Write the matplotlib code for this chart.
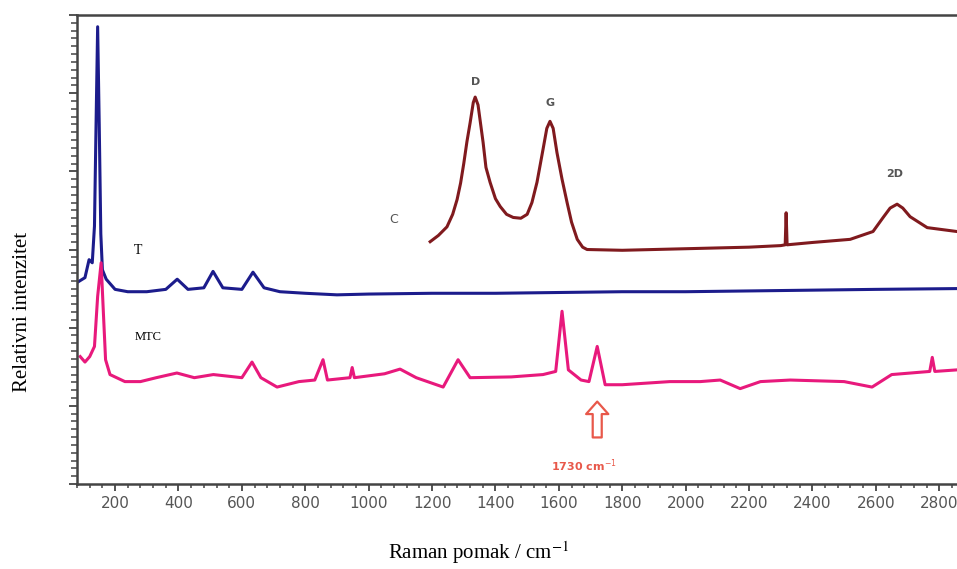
import matplotlib
matplotlib.use("Agg")
import matplotlib.pyplot as plt
from matplotlib.ticker import MultipleLocator

# Raman shift (cm-1) and relative intensity
t_x = [85, 105, 118, 128, 135, 140, 145, 150, 155, 160, 172, 200, 240, 300, 360, 396, 430,
       480, 509, 540, 600, 635, 670, 720, 800, 900, 1000, 1200, 1400, 1600, 1800, 2000,
       2200, 2400, 2600, 2856]
t_y = [2.59, 2.64, 2.87, 2.83, 3.30, 4.60, 5.85, 4.60, 3.20, 2.74, 2.62, 2.49, 2.46, 2.46,
       2.49, 2.62, 2.49, 2.51, 2.72, 2.51, 2.49, 2.71, 2.51, 2.46, 2.44, 2.42, 2.43, 2.44,
       2.44, 2.45, 2.46, 2.46, 2.47, 2.48, 2.49, 2.50]

mtc_x = [90, 105, 120, 135, 145, 156, 163, 170, 184, 231, 280, 330, 395, 450, 510, 600, 632,
         660, 711, 780, 830, 856, 870, 941, 948, 955, 1050, 1099, 1150, 1235, 1282, 1320,
         1450, 1550, 1590, 1610, 1630, 1670, 1695, 1721, 1746, 1800, 1950, 2046, 2109, 2172,
         2236, 2330, 2500, 2588, 2650, 2770, 2778, 2786, 2856]
mtc_y = [1.63, 1.56, 1.63, 1.76, 2.40, 2.83, 2.20, 1.59, 1.40, 1.31, 1.31, 1.36, 1.42, 1.36,
         1.40, 1.36, 1.56, 1.36, 1.24, 1.31, 1.33, 1.59, 1.33, 1.36, 1.49, 1.36, 1.41, 1.47,
         1.36, 1.24, 1.59, 1.36, 1.37, 1.40, 1.44, 2.21, 1.46, 1.33, 1.31, 1.76, 1.27, 1.27,
         1.31, 1.31, 1.33, 1.22, 1.31, 1.33, 1.31, 1.24, 1.40, 1.44, 1.62, 1.44, 1.46]

c_x = [1194, 1220, 1247, 1265, 1279, 1290, 1300, 1310, 1320, 1330, 1336, 1345, 1361, 1370,
       1383, 1400, 1415, 1435, 1456, 1480, 1500, 1515, 1531, 1550, 1562, 1572, 1582, 1594,
       1610, 1626, 1640, 1658, 1675, 1689, 1800, 1900, 2000, 2100, 2200, 2300, 2314, 2317,
       2320, 2400, 2519, 2591, 2623, 2645, 2667, 2685, 2708, 2762, 2856]
c_y = [3.10, 3.18, 3.29, 3.45, 3.64, 3.85, 4.10, 4.38, 4.62, 4.88, 4.95, 4.85, 4.37, 4.05,
       3.86, 3.65, 3.55, 3.45, 3.41, 3.40, 3.45, 3.60, 3.86, 4.28, 4.55, 4.64, 4.55, 4.24,
       3.90, 3.60, 3.35, 3.13, 3.03, 3.00, 2.99, 3.00, 3.01, 3.02, 3.03, 3.05, 3.06, 3.47,
       3.06, 3.09, 3.13, 3.23, 3.41, 3.53, 3.58, 3.53, 3.42, 3.28, 3.23]

serif = "Liberation Serif"

fig = plt.figure(figsize=(9.57, 5.69), dpi=100)
ax = fig.add_axes([0.0805, 0.1494, 0.9195, 0.8242])

ax.plot(t_x, t_y, color="#1c1c8c", lw=2.2)
ax.plot(mtc_x, mtc_y, color="#e8197c", lw=2.2)
ax.plot(c_x, c_y, color="#801a1e", lw=2.2)

ax.set_xlim(80, 2856)
ax.set_ylim(0, 6)
ax.xaxis.set_major_locator(MultipleLocator(200))
ax.xaxis.set_minor_locator(MultipleLocator(40))
ax.yaxis.set_major_locator(MultipleLocator(1))
ax.yaxis.set_minor_locator(MultipleLocator(0.1))
ax.set_xticks(range(200, 2801, 200))
ax.set_yticklabels([])
ax.tick_params(axis="x", which="major", length=5, width=1.3, colors="#444444",
               labelsize=11, labelcolor="#555555", pad=4)
ax.tick_params(axis="x", which="minor", length=3, width=1.1, colors="#444444")
ax.tick_params(axis="y", which="major", length=6, width=1.3, colors="#444444")
ax.tick_params(axis="y", which="minor", length=4, width=1.1, colors="#444444")
ax.spines["right"].set_visible(False)
for s in ["left", "bottom", "top"]:
    ax.spines[s].set_color("#444444")
    ax.spines[s].set_linewidth(1.8)

# peak labels
ax.text(1336, 5.14, "D", color="#555555", fontsize=8, fontweight="bold", ha="center", va="center")
ax.text(1572, 4.87, "G", color="#555555", fontsize=8, fontweight="bold", ha="center", va="center")
ax.text(2658, 3.96, "2D", color="#555555", fontsize=8, fontweight="bold", ha="center", va="center")
ax.text(1080, 3.38, "C", color="#555555", fontsize=9, ha="center", va="center")
ax.text(273, 2.99, "T", family=serif, fontsize=10, ha="center", va="center")
ax.text(304, 1.88, "MTC", family=serif, fontsize=9, ha="center", va="center")

ax.annotate("", xy=(1721, 1.09), xytext=(1721, 0.56),
            arrowprops=dict(arrowstyle="simple,head_length=0.9,head_width=1.6,tail_width=0.65",
                            fc="white", ec="#e8584a", lw=1.6))
ax.text(1680, 0.23, "1730 cm$^{-1}$", color="#e8584a", fontsize=8, fontweight="bold",
        ha="center", va="center")

fig.text(0.500, 0.028, "Raman pomak / cm$^{-1}$", family=serif, fontsize=15,
         ha="center", va="center", math_fontfamily="stix")
fig.text(0.024, 0.452, "Relativni intenzitet", family=serif, fontsize=15,
         rotation=90, ha="center", va="center")

fig.savefig("out.png", dpi=100)
